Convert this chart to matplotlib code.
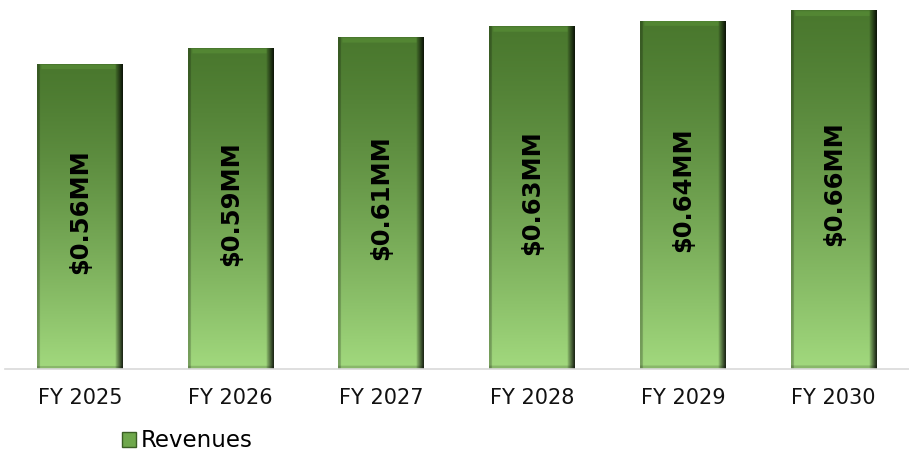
import numpy as np
import matplotlib
matplotlib.use('Agg')
import matplotlib.pyplot as plt
from matplotlib.patches import Patch

# --- DATA
years = ['FY 2025', 'FY 2026', 'FY 2027', 'FY 2028', 'FY 2029', 'FY 2030']
revenues = [0.56, 0.59, 0.61, 0.63, 0.64, 0.66]
labels = ['$0.56MM', '$0.59MM', '$0.61MM', '$0.63MM', '$0.64MM', '$0.66MM']

TOP = np.array([0x4a, 0x78, 0x2e]) / 255
BOTTOM = np.array([0xa2, 0xd9, 0x7e]) / 255


def bar_image(nx=60, ny=300):
    # vertical gradient, dark on top, light at bottom
    t = np.linspace(0, 1, ny) ** 1.3
    img = TOP[None, None, :] * (1 - t[:, None, None]) + BOTTOM[None, None, :] * t[:, None, None]
    img = np.repeat(img, nx, axis=1)
    # bevel: darker right edge, slightly dark left edge, lighter top strip
    x = np.linspace(0, 1, nx)
    shade = np.ones(nx)
    shade[x > 0.92] = np.linspace(0.8, 0.2, (x > 0.92).sum())
    shade[x < 0.03] = 0.75
    img = img * shade[None, :, None]
    img[1:5, 3:-5, :] = np.clip(img[1:5, 3:-5, :] * 1.12, 0, 1)
    img[-3:, :, :] = img[-3:, :, :] * 0.85
    return np.clip(img, 0, 1)


fig = plt.figure(figsize=(9.09, 4.51), dpi=100)
ax = fig.add_axes([0.005, 0.182, 0.995, 0.814])

bars = ax.bar(range(len(years)), revenues, width=0.57, color='none', edgecolor='none')
img = bar_image()
for b, lab in zip(bars, labels):
    x0, y0 = b.get_x(), b.get_y()
    w, h = b.get_width(), b.get_height()
    im = ax.imshow(img, extent=[x0, x0 + w, y0, y0 + h], aspect='auto', zorder=2,
                   interpolation='bilinear')
    im.set_clip_path(b)
    ax.text(x0 + w / 2, h * 0.515, lab, rotation=90, ha='center', va='center',
            fontsize=17.5, fontweight='bold', color='black', zorder=3)

ax.set_xlim(-0.5, 5.5)
ax.set_ylim(0, 0.675)
ax.set_xticks(range(len(years)))
ax.set_xticklabels(years, fontsize=15, color='#111111')
ax.tick_params(axis='x', length=0, pad=14)
ax.set_yticks([])
for s in ['top', 'right', 'left']:
    ax.spines[s].set_visible(False)
ax.spines['bottom'].set_color('#d9d9d9')
ax.spines['bottom'].set_linewidth(1.2)

handle = Patch(facecolor='#6fa84c', edgecolor='#3a5f24', label='Revenues')
fig.legend(handles=[handle], loc='lower left', bbox_to_anchor=(0.132, -0.008),
           frameon=False, fontsize=16.5, handlelength=0.6, handleheight=0.6,
           handletextpad=0.2, borderpad=0.1, borderaxespad=0)

fig.savefig('out.png', dpi=100)
